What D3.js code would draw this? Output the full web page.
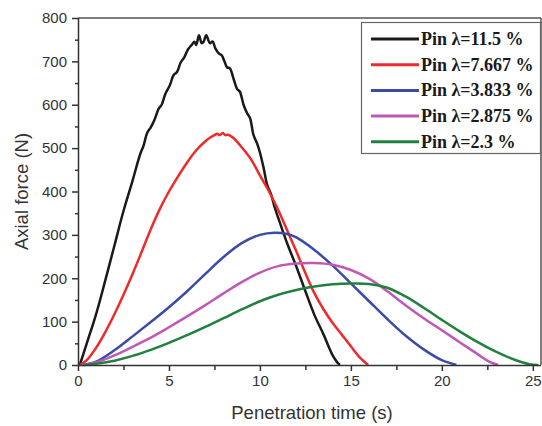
<!DOCTYPE html>
<html><head><meta charset="utf-8">
<script src="https://cdn.jsdelivr.net/npm/d3@7"></script>
<style>body{margin:0;background:#fff}</style>
</head><body><svg id="c" width="542" height="426"></svg>
<script>
const seriesNames = ["Pin λ=11.5 %", "Pin λ=7.667 %", "Pin λ=3.833 %", "Pin λ=2.875 %", "Pin λ=2.3 %"];
const seriesColors = ["#1a1a1a", "#ee2a2a", "#3a4ca6", "#c058b8", "#22803f"];
const xTicks = [0, 5, 10, 15, 20, 25];
const yTicks = [0, 100, 200, 300, 400, 500, 600, 700, 800];

const tBlack = [0.1, 0.5, 1, 1.5, 2, 2.5, 3, 3.3, 3.45, 3.6, 3.8, 4.0, 4.2, 4.45, 4.6, 4.8, 5.05, 5.25, 5.45, 5.65, 5.85, 6.05, 6.25, 6.4, 6.5, 6.65, 6.8, 6.9, 7.05, 7.25, 7.4, 7.55, 7.75, 7.9, 8.05, 8.2, 8.35, 8.55, 8.75, 8.9, 9.1, 9.3, 9.45, 9.65, 9.85, 10.0, 10.2, 10.4, 10.6, 10.8, 11.0, 11.5, 12.0, 12.5, 13.0, 13.5, 14.0, 14.25, 14.4];
const fBlack = [0, 52, 118, 195, 275, 355, 425, 470, 490, 505, 535, 548, 565, 592, 600, 625, 645, 668, 676, 698, 710, 728, 738, 745, 738, 760, 742, 745, 760, 742, 746, 730, 718, 714, 700, 686, 684, 660, 636, 630, 600, 580, 570, 530, 510, 490, 455, 415, 395, 365, 340, 280, 227, 170, 115, 70, 22, 6, 0];

const tRed = [0.1, 0.5, 1, 1.5, 2, 2.5, 3, 3.5, 4, 4.5, 5, 5.5, 6, 6.5, 7, 7.25, 7.5, 7.65, 7.8, 7.95, 8.1, 8.25, 8.5, 9, 9.5, 10, 10.5, 11, 11.5, 12, 12.5, 13, 13.5, 14, 14.5, 15, 15.5, 15.95];
const fRed = [0, 12, 40, 76, 117, 162, 210, 261, 313, 360, 400, 435, 467, 495, 516, 524, 530, 533, 530, 535, 530, 531, 525, 502, 475, 437, 400, 358, 310, 262, 212, 165, 128, 97, 70, 43, 17, 0];

const tBlue = [0.2, 1, 2, 3, 4, 5, 6, 7, 8, 9, 10, 10.8, 11.5, 12, 13, 14, 15, 16, 17, 18, 19, 20, 20.8];
const fBlue = [0, 8, 34, 66, 99, 133, 170, 210, 249, 281, 300, 305, 302, 294, 265, 229, 188, 147, 106, 68, 36, 11, 0];

const tMag = [0.2, 1, 2, 3, 4, 5, 6, 7, 8, 9, 10, 11, 12, 13, 14, 15, 16, 17, 18, 19, 20, 21, 22, 22.6, 23.1];
const fMag = [0, 6, 22, 42, 63, 87, 112, 138, 165, 191, 213, 228, 234, 235, 231, 219, 199, 170, 138, 108, 80, 52, 24, 8, 0];

const tGreen = [0.3, 1, 2, 3, 4, 5, 6, 7, 8, 9, 10, 11, 12, 13, 14, 15, 16, 17, 18, 19, 20, 21, 22, 23, 24, 24.8, 25.3];
const fGreen = [0, 3, 10, 21, 35, 51, 69, 88, 108, 128, 147, 162, 173, 181, 186, 188, 187, 178, 158, 132, 104, 77, 52, 30, 12, 2, 0];

const seriesT = [tBlack, tRed, tBlue, tMag, tGreen];
const seriesF = [fBlack, fRed, fBlue, fMag, fGreen];

const svg = d3.select("#c");
const L = 78, R = 541, T = 18, B = 365;
const x = d3.scaleLinear().domain([0, 25.45]).range([L, R]);
const y = d3.scaleLinear().domain([0, 800]).range([B, T]);
const sans = "'Liberation Sans', Arial, sans-serif";
const axisCol = "#333";

// frame top & right
svg.append("line").attr("x1", L).attr("x2", R).attr("y1", T).attr("y2", T).attr("stroke", "#555").attr("stroke-width", 1.5);
svg.append("line").attr("x1", R).attr("x2", R).attr("y1", T).attr("y2", B).attr("stroke", "#555").attr("stroke-width", 1.5);

// curves
const line = d3.line().x(d => x(d[0])).y(d => y(d[1])).curve(d3.curveCatmullRom.alpha(0.5));
seriesT.forEach((ts, i) => {
  const pts = ts.map((t, j) => [t, seriesF[i][j]]);
  svg.append("path").datum(pts).attr("d", line).attr("fill", "none")
    .attr("stroke", seriesColors[i]).attr("stroke-width", 2.5).attr("stroke-linejoin", "round");
});

// axes
const xMinor = d3.range(2.5, 25.45, 5);
const yMinor = d3.range(50, 800, 100);
const gx = svg.append("g").attr("transform", `translate(0,${B})`);
gx.call(d3.axisBottom(x).tickValues(xTicks).tickSize(6).tickPadding(4).tickSizeOuter(0));
const gxm = svg.append("g").attr("transform", `translate(0,${B})`);
gxm.call(d3.axisBottom(x).tickValues(xMinor).tickSize(5).tickFormat("").tickSizeOuter(0));
gxm.select(".domain").remove();
const gy = svg.append("g").attr("transform", `translate(${L},0)`);
gy.call(d3.axisLeft(y).tickValues(yTicks).tickSize(6).tickPadding(5).tickSizeOuter(0));
const gym = svg.append("g").attr("transform", `translate(${L},0)`);
gym.call(d3.axisLeft(y).tickValues(yMinor).tickSize(3).tickFormat("").tickSizeOuter(0));
gym.select(".domain").remove();
[gx, gxm, gy, gym].forEach(g => {
  g.selectAll("path,line").attr("stroke", axisCol).attr("stroke-width", 1.5);
  g.selectAll("text").attr("fill", "#333").style("font-family", sans).style("font-size", "15px");
});
gx.selectAll("path.domain").attr("d", `M${L},0.5H${R}`);
gy.selectAll("path.domain").attr("d", `M0.5,${B}V${T}`);

// axis titles
svg.append("text").attr("x", 312).attr("y", 419).attr("text-anchor", "middle")
  .style("font-family", sans).style("font-size", "18.5px").attr("fill", "#333").text("Penetration time (s)");
svg.append("text").attr("transform", `translate(28,${(T + B) / 2}) rotate(-90)`).attr("text-anchor", "middle")
  .style("font-family", sans).style("font-size", "18.5px").attr("fill", "#333").text("Axial force (N)");

// legend
const lg = svg.append("g");
lg.append("rect").attr("x", 361.5).attr("y", 22.5).attr("width", 179).attr("height", 131)
  .attr("fill", "#fff").attr("stroke", "#666").attr("stroke-width", 1.2);
seriesNames.forEach((n, i) => {
  const yy = 39 + i * 25.7;
  lg.append("line").attr("x1", 371).attr("x2", 419).attr("y1", yy).attr("y2", yy)
    .attr("stroke", seriesColors[i]).attr("stroke-width", 3);
  lg.append("text").attr("x", 421).attr("y", yy + 6).text(n)
    .style("font-family", "'Liberation Serif', 'Times New Roman', serif").style("font-size", "18px")
    .style("font-weight", "bold").attr("fill", "#1a1a1a");
});
</script>
</body></html>
